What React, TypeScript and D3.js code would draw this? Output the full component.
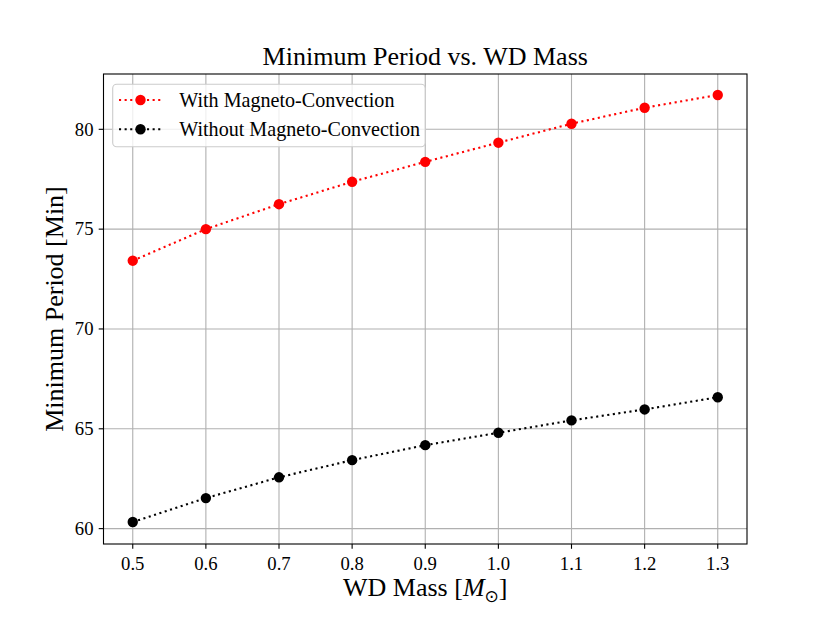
import React from "react";
import * as d3 from "d3";

const masses = [0.5, 0.6, 0.7, 0.8, 0.9, 1.0, 1.1, 1.2, 1.3];
const withMC = [73.42, 75.0, 76.25, 77.37, 78.37, 79.33, 80.28, 81.08, 81.72];
const withoutMC = [60.33, 61.53, 62.57, 63.43, 64.18, 64.8, 65.42, 65.97, 66.58];
const xTicks = [0.5, 0.6, 0.7, 0.8, 0.9, 1.0, 1.1, 1.2, 1.3];
const yTicks = [60, 65, 70, 75, 80];
const seriesNames = ["With Magneto-Convection", "Without Magneto-Convection"];
const seriesColors = ["#ff0000", "#000000"];

const W = 830, H = 623;
const L = 103.5, R = 747, T = 74, B = 544;
const FONT = "'Liberation Serif', 'Times New Roman', serif";

export default function App() {
  const x = d3.scaleLinear().domain([0.46, 1.34]).range([L, R]);
  const y = d3.scaleLinear().domain([59.23, 82.77]).range([B, T]);
  const line = d3.line<[number, number]>().x(d => x(d[0])).y(d => y(d[1]));
  const series = [withMC, withoutMC];
  const grid = "#b0b0b0";
  return (
    <svg width={W} height={H} style={{ position: "absolute", left: 0, top: 0, background: "#fff" }} fontFamily={FONT}>
      <rect width={W} height={H} fill="#fff" />
      {xTicks.map(t => (
        <line key={"gx" + t} x1={x(t)} x2={x(t)} y1={T} y2={B} stroke={grid} strokeWidth={1.1} />
      ))}
      {yTicks.map(t => (
        <line key={"gy" + t} x1={L} x2={R} y1={y(t)} y2={y(t)} stroke={grid} strokeWidth={1.1} />
      ))}
      {series.map((s, i) => (
        <g key={"s" + i}>
          <path d={line(masses.map((m, j) => [m, s[j]] as [number, number])) || ""} fill="none"
            stroke={seriesColors[i]} strokeWidth={2.1} strokeDasharray="2.1,3.5" />
          {masses.map((m, j) => (
            <circle key={j} cx={x(m)} cy={y(s[j])} r={5.2} fill={seriesColors[i]} />
          ))}
        </g>
      ))}
      <rect x={L} y={T} width={R - L} height={B - T} fill="none" stroke="#000" strokeWidth={1.1} />
      {xTicks.map(t => (
        <g key={"xt" + t}>
          <line x1={x(t)} x2={x(t)} y1={B} y2={B + 4.8} stroke="#000" strokeWidth={1.1} />
          <text x={x(t)} y={569.5} fontSize={18.7} textAnchor="middle">{d3.format(".1f")(t)}</text>
        </g>
      ))}
      {yTicks.map(t => (
        <g key={"yt" + t}>
          <line x1={L - 4.8} x2={L} y1={y(t)} y2={y(t)} stroke="#000" strokeWidth={1.1} />
          <text x={93.5} y={y(t)} dy="0.34em" fontSize={18.7} textAnchor="end">{t}</text>
        </g>
      ))}
      <text x={(L + R) / 2} y={65} fontSize={26} textAnchor="middle">Minimum Period vs. WD Mass</text>
      <text x={(L + R) / 2} y={596} fontSize={26} textAnchor="middle">
        WD Mass [<tspan fontStyle="italic">M</tspan>
        <tspan fontFamily="'DejaVu Sans', sans-serif" fontSize={17} dy={6}>⊙</tspan>
        <tspan dy={-6}>]</tspan>
      </text>
      <text transform={`translate(63,${(T + B) / 2}) rotate(-90)`} fontSize={26} textAnchor="middle">
        Minimum Period [Min]
      </text>
      <g>
        <rect x={112.7} y={84.3} width={312.5} height={62.4} rx={4} fill="#fff" fillOpacity={0.8} stroke="#cccccc" strokeWidth={1.1} />
        {seriesNames.map((n, i) => (
          <g key={n}>
            <line x1={119} x2={161} y1={100 + i * 29.3} y2={100 + i * 29.3} stroke={seriesColors[i]} strokeWidth={2.1} strokeDasharray="2.1,3.5" />
            <circle cx={140.5} cy={100 + i * 29.3} r={5.2} fill={seriesColors[i]} />
            <text x={179.3} y={100 + i * 29.3} dy="0.34em" fontSize={20.1}>{n}</text>
          </g>
        ))}
      </g>
    </svg>
  );
}
